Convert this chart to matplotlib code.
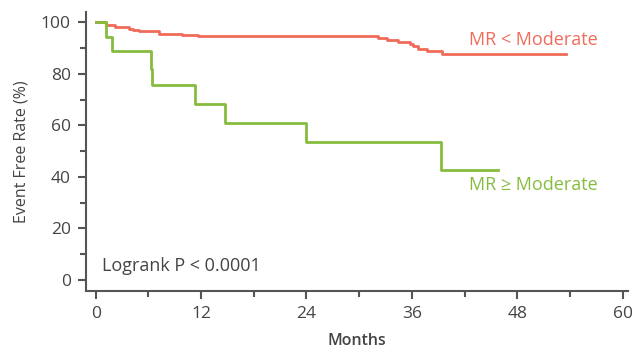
import matplotlib
matplotlib.use("Agg")
import matplotlib.pyplot as plt
from matplotlib.ticker import MultipleLocator

plt.rcParams['font.family'] = ['Open Sans', 'DejaVu Sans']

# Kaplan-Meier step data (months, event free %)
red_t = [0, 1.2, 2.2, 3.8, 4.2, 4.9, 7.2, 9.8, 11.6, 21.7, 32.2, 33.2, 34.4, 35.8, 36.1, 36.7, 37.7, 39.4, 53.6]
red_s = [100, 99.0, 98.0, 97.4, 96.9, 96.6, 95.5, 95.2, 94.8, 94.5, 93.8, 93.0, 92.4, 91.5, 90.7, 89.8, 89.0, 87.8, 87.8]
green_t = [0, 1.2, 1.9, 6.3, 6.45, 11.3, 14.7, 23.9, 39.3, 45.8]
green_s = [100, 94.3, 89.0, 82.0, 75.5, 68.2, 60.8, 53.4, 42.8, 42.8]

red_label = "MR < Moderate"
green_label = "MR \u2265 Moderate"
pval = "Logrank P < 0.0001"

RED = "#F06B5A"
GREEN = "#86BC3E"
GRAY = "#444444"

fig = plt.figure(figsize=(6.33, 3.51), dpi=100)
ax = fig.add_axes([0.1359, 0.171, 0.856, 0.795])

ax.step(red_t, red_s, where='post', color=RED, lw=2)
ax.step(green_t, green_s, where='post', color=GREEN, lw=2)

ax.set_xlim(-1.1, 60.6)
ax.set_ylim(-4.3, 104)
ax.xaxis.set_major_locator(MultipleLocator(12))
ax.xaxis.set_minor_locator(MultipleLocator(6))
ax.yaxis.set_major_locator(MultipleLocator(20))
ax.yaxis.set_minor_locator(MultipleLocator(10))

for s in ['top', 'right']:
    ax.spines[s].set_visible(False)
for s in ['left', 'bottom']:
    ax.spines[s].set_color('#555555')
    ax.spines[s].set_linewidth(1.5)

ax.tick_params(which='major', length=6, width=1.5, color='#555555', labelsize=12.5, labelcolor=GRAY, pad=5)
ax.tick_params(which='minor', length=4, width=1.5, color='#555555')

ax.set_xlabel("Months", fontsize=11.5, color=GRAY, fontweight='semibold', labelpad=8)
ax.set_ylabel("Event Free Rate (%)", fontsize=11.5, color=GRAY, labelpad=8)

ax.text(42.5, 93.0, red_label, color=RED, fontsize=13, va='center', ha='left')
ax.text(42.5, 36.8, green_label, color=GREEN, fontsize=13, va='center', ha='left')
ax.text(0.75, 5.4, pval, color=GRAY, fontsize=13, va='center', ha='left')

fig.savefig("out.png", dpi=100)
